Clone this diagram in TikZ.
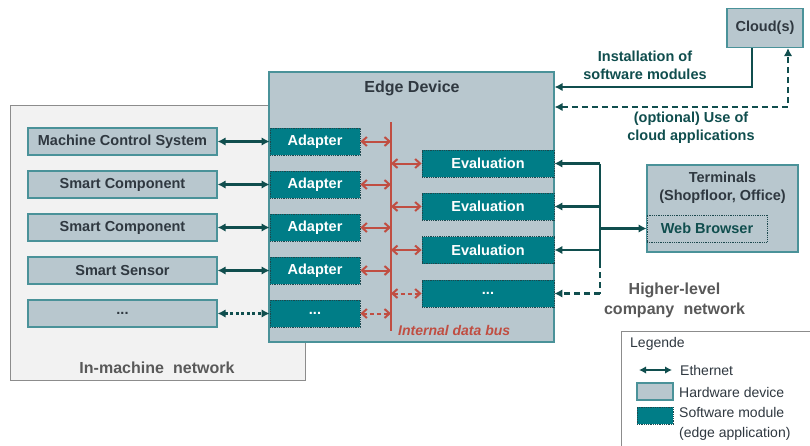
\documentclass[tikz,border=0pt]{standalone}
\usepackage{fontspec}
\setmainfont{Liberation Sans}
\usetikzlibrary{arrows.meta}

\definecolor{hwfill}{RGB}{184,199,206}
\definecolor{hwline}{RGB}{74,146,153}
\definecolor{swfill}{RGB}{0,125,135}
\definecolor{swline}{RGB}{28,72,78}
\definecolor{link}{RGB}{16,78,78}
\definecolor{buscol}{RGB}{192,78,66}
\definecolor{txt}{RGB}{47,56,64}
\definecolor{netfill}{RGB}{242,242,242}
\definecolor{netline}{RGB}{140,140,140}
\definecolor{graytxt}{RGB}{89,89,89}

\begin{document}
\begin{tikzpicture}[x=1pt,y=-1pt,
  boxfont/.style={font=\fontsize{14.5}{18}\selectfont\bfseries},
  hw/.style={draw=hwline, fill=hwfill, line width=1.2pt, minimum height=27pt,
    inner sep=0pt, boxfont, text=txt},
  sw/.style={draw=swline, fill=swfill, densely dotted, line width=0.8pt,
    minimum height=27pt, inner sep=0pt, boxfont, text=white},
  eth/.style={draw=link, line width=2.5pt,
    {Latex[length=8pt,width=8.5pt]}-{Latex[length=8pt,width=8.5pt]}},
  ethone/.style={draw=link, line width=2.5pt, -{Latex[length=8pt,width=8.5pt]}},
  busarrow/.style={draw=buscol, line width=2pt,
    {Straight Barb[length=5pt,width=9pt]}-{Straight Barb[length=5pt,width=9pt]}},
  title/.style={font=\fontsize{16}{19}\selectfont\bfseries},
  linklabel/.style={boxfont, text=link, align=center},
  legtext/.style={font=\fontsize{14}{20.5}\selectfont, text=txt, anchor=west, inner sep=0pt}
]
\clip (0,0) rectangle (810,445);
\fill[white] (0,0) rectangle (810,445);

% in-machine network
\node[draw=netline, fill=netfill, line width=1pt, minimum width=295pt,
  minimum height=275pt] (imn) at (157.5,242.5) {};
\node[title, text=graytxt] (imnlabel) at (157,368) {In-machine\hspace{0.3em} network};

% edge device
\node[draw=hwline, fill=hwfill, line width=1.2pt, minimum width=285pt,
  minimum height=270pt] (edge) at (411.5,207) {};
\node[title, text=txt] (edgelabel) at (412,88) {Edge Device};

% hardware devices in the machine
\node[hw, minimum width=189pt] (h1) at (122.5,141.5) {Machine Control System};
\node[hw, minimum width=189pt] (h2) at (122.5,184.5) {Smart Component};
\node[hw, minimum width=189pt] (h3) at (122.5,227.5) {Smart Component};
\node[hw, minimum width=189pt] (h4) at (122.5,270.5) {Smart Sensor};
\node[hw, minimum width=189pt] (h5) at (122.5,313.5) {...};

% adapters
\node[sw, minimum width=90pt] (a1) at (315,141.5) {Adapter};
\node[sw, minimum width=90pt] (a2) at (315,184.5) {Adapter};
\node[sw, minimum width=90pt] (a3) at (315,227.5) {Adapter};
\node[sw, minimum width=90pt] (a4) at (315,270.5) {Adapter};
\node[sw, minimum width=90pt] (a5) at (315,313.5) {...};

% evaluations
\node[sw, minimum width=132pt] (e1) at (488,163.5) {Evaluation};
\node[sw, minimum width=132pt] (e2) at (488,206.5) {Evaluation};
\node[sw, minimum width=132pt] (e3) at (488,250) {Evaluation};
\node[sw, minimum width=132pt] (e4) at (488,293.5) {...};

% ethernet between machine and adapters
\draw[eth] (h1) -- (a1);
\draw[eth] (h2) -- (a2);
\draw[eth] (h3) -- (a3);
\draw[eth] (h4) -- (a4);
\draw[eth, dash pattern=on 3pt off 2.5pt] (h5) -- (a5);

% internal data bus
\coordinate (bustop) at (391,122);
\coordinate (busbot) at (391,331);
\draw[buscol, line width=2.5pt] (bustop) -- (busbot);
\draw[busarrow] (a1.east) -- (a1.east -| bustop);
\draw[busarrow] (a2.east) -- (a2.east -| bustop);
\draw[busarrow] (a3.east) -- (a3.east -| bustop);
\draw[busarrow] (a4.east) -- (a4.east -| bustop);
\draw[busarrow, dash pattern=on 4pt off 3pt] (a5.east) -- (a5.east -| bustop);
\draw[busarrow] (e1.west -| bustop) -- (e1.west);
\draw[busarrow] (e2.west -| bustop) -- (e2.west);
\draw[busarrow] (e3.west -| bustop) -- (e3.west);
\draw[busarrow, dash pattern=on 4pt off 3pt] (e4.west -| bustop) -- (e4.west);
\node[font=\fontsize{14}{16}\selectfont\bfseries\itshape, text=buscol, anchor=west,
  inner sep=0pt] (buslabel) at (398,330) {Internal data bus};

% terminals
\node[draw=hwline, fill=hwfill, line width=1.2pt, minimum width=151pt,
  minimum height=87pt] (term) at (722.5,208.5) {};
\node[boxfont, text=txt, align=center, anchor=north, inner sep=0pt] (termlabel)
  at (722.5,172) {Terminals\\(Shopfloor, Office)};
\node[draw=swline, densely dotted, line width=0.8pt, fill=hwfill, minimum width=120pt,
  minimum height=27pt, inner sep=0pt, boxfont, text=link] (wb) at (707,228.5) {Web Browser};

% higher-level company network
\coordinate (hub) at (600,228.5);
\draw[link, line width=2.5pt] (hub |- e1.east) -- (hub |- e3.east) -- ++(0,12);
\draw[link, line width=2.5pt, dash pattern=on 6pt off 4pt] (hub |- e3.east) ++(0,12) -- (hub |- e4.east);
\draw[ethone] (hub |- e1.east) -- (e1.east);
\draw[ethone] (hub |- e2.east) -- (e2.east);
\draw[ethone] (hub |- e3.east) -- (e3.east);
\draw[ethone, dash pattern=on 6pt off 4pt] (hub |- e4.east) -- (e4.east);
\draw[ethone] (hub) -- (wb.west);
\node[font=\fontsize{16}{20}\selectfont\bfseries, text=graytxt, align=center] (hlnet)
  at (674.5,300) {Higher-level\\company\hspace{0.3em} network};

% cloud
\node[hw, minimum width=76pt, minimum height=39pt] (cloud) at (765,28) {Cloud(s)};
\coordinate (instcorner) at (752,87);
\coordinate (optcorner) at (788,107);
\draw[ethone] (cloud.south -| instcorner) -- (instcorner) -- (edge.east |- instcorner);
\draw[eth, dash pattern=on 6pt off 4pt] (edge.east |- optcorner) -- (optcorner)
  -- (cloud.south -| optcorner);
\node[linklabel] (instlabel) at (645,65.5) {Installation of\\software modules};
\node[linklabel] (optlabel) at (691,128) {(optional) Use of\\cloud applications};

% legend
\draw[draw=netline, line width=1pt] (621,450) -- (621,331) -- (815,331);
\node[legtext] (legtitle) at (630,344) {Legende};
\coordinate (legL) at (639,370);
\coordinate (legR) at (672,370);
\draw[draw=link, line width=2.2pt,
  {Latex[length=7pt,width=7.5pt]}-{Latex[length=7pt,width=7.5pt]}] (legL) -- (legR);
\node[legtext] (legeth) at (680,370) {Ethernet};
\node[draw=hwline, fill=hwfill, line width=1.2pt, minimum width=36pt,
  minimum height=17pt, inner sep=0pt] (leghw) at (655,391.5) {};
\node[legtext] (leghwtext) at (679,392) {Hardware device};
\node[draw=swline, fill=swfill, densely dotted, line width=0.8pt, minimum width=36pt,
  minimum height=17pt, inner sep=0pt] (legsw) at (655,415.5) {};
\node[legtext, align=left, anchor=north west] (legswtext) at (679,407)
  {Software module\\(edge application)};
\end{tikzpicture}
\end{document}
